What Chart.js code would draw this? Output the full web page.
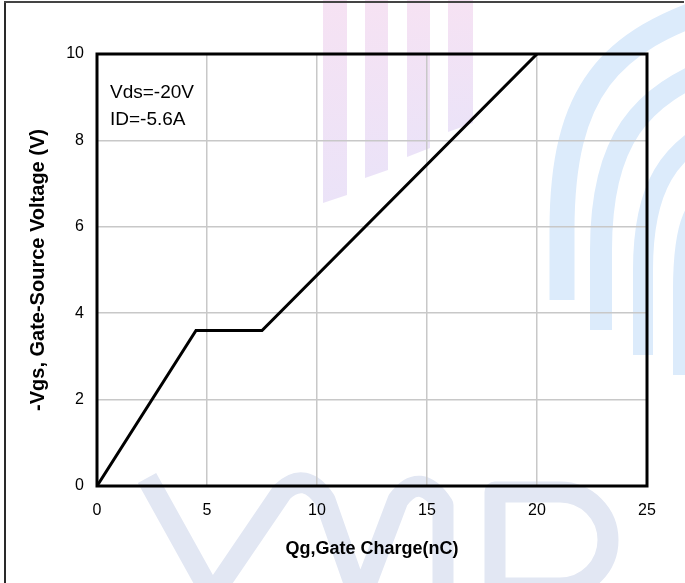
<!DOCTYPE html>
<html>
<head>
<meta charset="utf-8">
<script src="https://cdn.jsdelivr.net/npm/chart.js@4.4.1/dist/chart.umd.min.js"></script>
<style>
  html, body { margin: 0; padding: 0; background: #fff; }
  #wrap { position: relative; width: 685px; height: 583px; }
  #gateChart { position: absolute; left: 0; top: 0; }
  .edge-left { position: absolute; left: 4px; top: 1px; width: 2px; height: 582px; background: #2a2a2a; }
  .edge-top { position: absolute; left: 4px; top: 1px; width: 680px; height: 2px; background: #444; }
</style>
</head>
<body>
<div id="wrap">
  <canvas id="gateChart" width="685" height="583"></canvas>
  <div class="edge-left"></div>
  <div class="edge-top"></div>
</div>
<script>
// --- gate charge curve data ---
const qgCharge = [0, 4.5, 7.5, 20];      // nC
const vgsVoltage = [0, 3.6, 3.6, 10];    // -Vgs (V)
const xTicks = [0, 5, 10, 15, 20, 25];
const yTicks = [0, 2, 4, 6, 8, 10];
const noteLines = ['Vds=-20V', 'ID=-5.6A'];

// faint logo behind the plot
const watermark = {
    id: 'watermark',
    beforeDraw(chart) {
        const ctx = chart.ctx;
        ctx.save();
        // purple bars
        const bars = [[323, 347, 203, 195], [365, 388, 178, 170], [407, 430, 157, 148], [448, 473, 132, 123]];
        bars.forEach(b => {
            const g = ctx.createLinearGradient(0, 0, 0, b[2]);
            g.addColorStop(0, '#f6e2f3');
            g.addColorStop(1, '#ebe3f8');
            ctx.fillStyle = g;
            ctx.beginPath();
            ctx.moveTo(b[0], 0);
            ctx.lineTo(b[1], 0);
            ctx.lineTo(b[1], b[3]);
            ctx.lineTo(b[0], b[2]);
            ctx.closePath();
            ctx.fill();
        });
        // blue arcs on the right
        ctx.strokeStyle = '#dcebfb';
        ctx.lineCap = 'butt';
        const arcs = [
            [562, 300, 230, 90, 610, 40, 720, 5, 25],
            [601, 330, 250, 140, 640, 95, 720, 65, 22],
            [643, 355, 270, 185, 670, 150, 720, 125, 20],
            [682, 375, 290, 220, 695, 200, 720, 190, 18]
        ];
        arcs.forEach(a => {
            ctx.lineWidth = a[8];
            ctx.beginPath();
            ctx.moveTo(a[0], a[1]);
            ctx.lineTo(a[0], a[2]);
            ctx.bezierCurveTo(a[0], a[3], a[4], a[5], a[6], a[7]);
            ctx.stroke();
        });
        // VMP letters at the bottom
        ctx.strokeStyle = '#e2e7f3';
        ctx.lineWidth = 21;
        ctx.lineJoin = 'round';
        ctx.beginPath();
        ctx.moveTo(147, 478);
        ctx.lineTo(212, 595);
        ctx.lineTo(282, 492);
        ctx.quadraticCurveTo(305, 470, 325, 500);
        ctx.lineTo(360, 600);
        ctx.lineTo(398, 500);
        ctx.quadraticCurveTo(420, 470, 443, 505);
        ctx.lineTo(443, 600);
        ctx.stroke();
        ctx.beginPath();
        ctx.moveTo(495, 600);
        ctx.lineTo(495, 492);
        ctx.lineTo(560, 492);
        ctx.arc(560, 540, 48, -Math.PI / 2, Math.PI / 2);
        ctx.lineTo(500, 588);
        ctx.stroke();
        ctx.restore();
    }
};

// frame around the plot + condition note
const frameAndNote = {
    id: 'frameAndNote',
    afterDatasetsDraw(chart) {
        const { ctx, chartArea: a } = chart;
        ctx.save();
        ctx.strokeStyle = '#000';
        ctx.lineWidth = 3;
        ctx.strokeRect(a.left, a.top, a.right - a.left, a.bottom - a.top);
        ctx.fillStyle = '#000';
        ctx.font = '19px "Liberation Sans", Arial, sans-serif';
        ctx.textBaseline = 'alphabetic';
        noteLines.forEach((t, i) => ctx.fillText(t, a.left + 13, a.top + 44 + i * 27));
        ctx.restore();
    }
};

const points = qgCharge.map((q, i) => ({ x: q, y: vgsVoltage[i] }));
const tickFont = { family: '"Liberation Sans", Arial, sans-serif', size: 16 };
const titleFont = { family: '"Liberation Sans", Arial, sans-serif', size: 18, weight: 'bold' };

new Chart(document.getElementById('gateChart'), {
    type: 'line',
    data: {
        datasets: [{
            data: points,
            borderColor: '#000',
            borderWidth: 3,
            pointRadius: 0,
            tension: 0,
            fill: false
        }]
    },
    options: {
        responsive: false,
        animation: false,
        layout: { padding: { left: 0, right: 38, top: 54, bottom: 0 } },
        plugins: { legend: { display: false }, tooltip: { enabled: false } },
        scales: {
            x: {
                type: 'linear',
                min: 0, max: 25,
                afterBuildTicks: s => { s.ticks = xTicks.map(v => ({ value: v })); },
                afterFit: s => { s.height = 97; },
                grid: { color: '#c8c8c8', lineWidth: 1.5, drawTicks: false },
                border: { display: false },
                ticks: { color: '#000', font: tickFont, padding: 15, maxRotation: 0 },
                title: { display: true, text: 'Qg,Gate Charge(nC)', color: '#000', font: titleFont, padding: { top: 0, bottom: 23 } }
            },
            y: {
                type: 'linear',
                min: 0, max: 10,
                afterBuildTicks: s => { s.ticks = yTicks.map(v => ({ value: v })); },
                afterFit: s => { s.width = 97; },
                grid: { color: '#c8c8c8', lineWidth: 1.5, drawTicks: false },
                border: { display: false },
                ticks: { color: '#000', font: tickFont, padding: 13 },
                title: { display: true, text: '-Vgs, Gate-Source Voltage (V)', color: '#000', font: { ...titleFont, size: 20 }, padding: { top: 26, bottom: 0 } }
            }
        }
    },
    plugins: [watermark, frameAndNote]
});
</script>
</body>
</html>
